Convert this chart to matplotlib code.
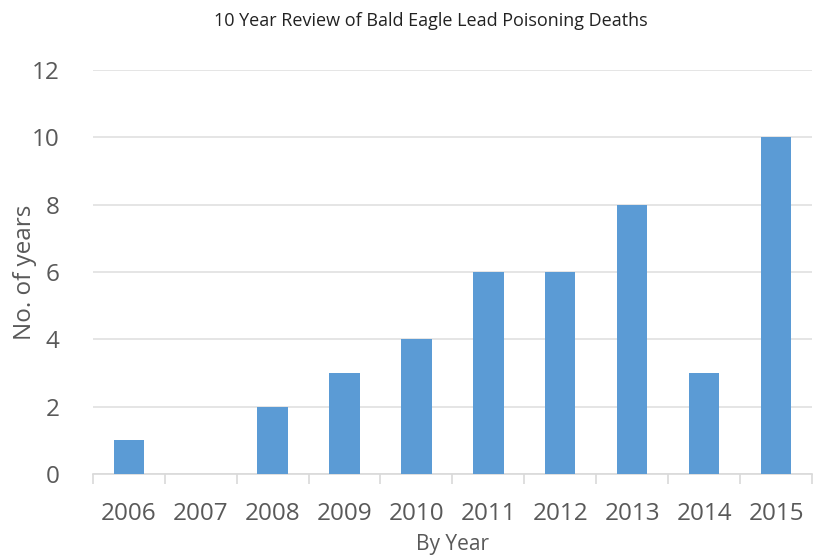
import matplotlib
matplotlib.use("Agg")
import matplotlib.pyplot as plt
import numpy as np

years = ["2006", "2007", "2008", "2009", "2010", "2011", "2012", "2013", "2014", "2015"]
deaths = [1, 0, 2, 3, 4, 6, 6, 8, 3, 10]

plt.rcParams['font.family'] = ['Open Sans', 'DejaVu Sans']

fig = plt.figure(figsize=(8.13, 5.57), dpi=100)
ax = fig.add_axes([0.114, 0.149, 0.885, 0.725])

x = np.arange(len(years))
ax.bar(x, deaths, width=0.42, color='#5B9BD5', zorder=3)

ax.set_xlim(-0.5, len(years) - 0.5)
ax.set_ylim(0, 12)
ax.set_yticks(np.arange(0, 13, 2))
ax.set_xticks(x)
ax.set_xticklabels(years)
ax.yaxis.grid(True, color='#E0E0E0', linewidth=1.2, zorder=0)

# category separators under the axis
ax.set_xticks(np.arange(-0.5, len(years)), minor=True)
ax.tick_params(axis='x', which='major', length=0, pad=20, labelsize=17.5, labelcolor='#595959')
ax.tick_params(axis='x', which='minor', length=7, color='#D9D9D9', width=1.2)
ax.tick_params(axis='y', length=0, pad=24, labelsize=17.5, labelcolor='#595959')

for side in ['top', 'right', 'left']:
    ax.spines[side].set_visible(False)
ax.spines['bottom'].set_color('#D9D9D9')
ax.spines['bottom'].set_linewidth(1.2)

ax.set_xlabel("By Year", fontsize=15, color='#595959')
ax.xaxis.set_label_coords(0.5, -0.148)
ax.set_ylabel("No. of years", fontsize=17.5, color='#595959')
ax.yaxis.set_label_coords(-0.077, 0.5)
fig.text(0.53, 0.962, "10 Year Review of Bald Eagle Lead Poisoning Deaths",
         ha='center', va='center', fontsize=13, color='#222222')

fig.savefig("out.png", dpi=100)
